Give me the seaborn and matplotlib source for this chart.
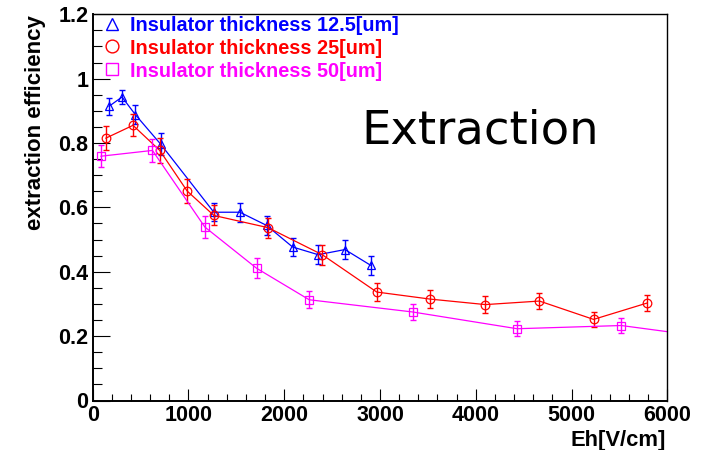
import numpy as np
import pandas as pd
import matplotlib
matplotlib.use("Agg")
import matplotlib.pyplot as plt
from matplotlib.ticker import MultipleLocator, FuncFormatter
from matplotlib.lines import Line2D
import seaborn as sns

# Extraction efficiency vs. drift field Eh for three insulator thicknesses
eh_125 = [170, 306, 446, 711, 1265, 1537, 1816, 2087, 2355, 2634, 2903]
eff_125 = [0.914, 0.943, 0.888, 0.796, 0.585, 0.585, 0.544, 0.477, 0.453, 0.469, 0.420]
err_125 = [0.026, 0.022, 0.029, 0.034, 0.028, 0.030, 0.030, 0.029, 0.030, 0.030, 0.030]

eh_25 = [136, 421, 700, 986, 1265, 1832, 2397, 2966, 3526, 4101, 4665, 5230, 5791]
eff_25 = [0.815, 0.855, 0.777, 0.651, 0.575, 0.537, 0.453, 0.337, 0.315, 0.298, 0.309, 0.252, 0.303]
err_25 = [0.037, 0.034, 0.040, 0.036, 0.031, 0.031, 0.031, 0.028, 0.027, 0.026, 0.026, 0.024, 0.026]

eh_50 = [84, 624, 1171, 1711, 2261, 3342, 4432, 5519, 6600]
eff_50 = [0.759, 0.777, 0.539, 0.411, 0.313, 0.275, 0.223, 0.233, 0.190]
err_50 = [0.034, 0.036, 0.035, 0.031, 0.026, 0.024, 0.023, 0.022, 0.022]

labels = ["Insulator thickness 12.5[um]",
          "Insulator thickness 25[um]",
          "Insulator thickness 50[um]"]
colors = ["#0000ff", "#ff0000", "#ff00ff"]
markers = ["^", "o", "s"]
msizes = [6.2, 6.2, 5.4]
legend_msizes = [8.6, 9.2, 8.0]

x_ticks = [0, 1000, 2000, 3000, 4000, 5000, 6000]
y_ticks = [0, 0.2, 0.4, 0.6, 0.8, 1.0, 1.2]

sns.set_theme(style="white")
plt.rcParams["font.family"] = ["Liberation Sans", "DejaVu Sans"]
plt.rcParams["text.color"] = "black"
plt.rcParams["xtick.color"] = "black"
plt.rcParams["ytick.color"] = "black"
plt.rcParams["axes.labelcolor"] = "black"

W, H = 707, 450
fig = plt.figure(figsize=(W / 100, H / 100), dpi=100)
ax = fig.add_axes([92.7 / W, 1 - 400.5 / H, (667.3 - 92.7) / W, (400.5 - 14.3) / H])

series = [(eh_125, eff_125, err_125), (eh_25, eff_25, err_25), (eh_50, eff_50, err_50)]
for (xs, ys, es), lab, c, m, ms in zip(series, labels, colors, markers, msizes):
    df = pd.DataFrame({"Eh": xs, "eff": ys})
    sns.lineplot(data=df, x="Eh", y="eff", ax=ax, color=c, linewidth=0.9,
                 marker=m, markersize=ms, markerfacecolor="none",
                 markeredgecolor=c, markeredgewidth=0.9,
                 estimator=None, sort=False, errorbar=None, legend=False)
    ax.errorbar(xs, ys, yerr=es, fmt="none", ecolor=c, elinewidth=1.0,
                capsize=2.2, capthick=1.0)

ax.set_xlim(0, 6000)
ax.set_ylim(0, 1.2)
ax.set_xticks(x_ticks)
ax.set_yticks(y_ticks)
ax.xaxis.set_minor_locator(MultipleLocator(200))
ax.yaxis.set_minor_locator(MultipleLocator(0.05))
fmt = FuncFormatter(lambda v, p: "%g" % round(v, 3))
ax.xaxis.set_major_formatter(fmt)
ax.yaxis.set_major_formatter(fmt)
ax.set_xlabel("")
ax.set_ylabel("")

for side in ["left", "bottom", "top", "right"]:
    ax.spines[side].set_color("black")
    ax.spines[side].set_visible(True)
ax.spines["left"].set_linewidth(1.4)
ax.spines["bottom"].set_linewidth(1.4)
ax.spines["top"].set_linewidth(1.0)
ax.spines["right"].set_linewidth(1.0)

ax.tick_params(axis="both", which="both", bottom=True, left=True,
               top=False, right=False, direction="in", color="black",
               labelcolor="black")
ax.tick_params(axis="x", which="major", length=8.4, width=0.8,
               pad=3.5, labelsize=15.5)
ax.tick_params(axis="x", which="minor", length=4.8, width=0.8)
ax.tick_params(axis="y", which="major", length=12.2, width=0.8,
               pad=3, labelsize=15.5)
ax.tick_params(axis="y", which="minor", length=6.3, width=0.8)
for t in ax.get_xticklabels() + ax.get_yticklabels():
    t.set_fontweight("bold")

# axis titles, ROOT style: anchored at the far ends of the axes
fig.text(36 / W, 1 - 15 / H, "extraction efficiency", rotation=90,
         ha="center", va="top", fontsize=16, fontweight="bold", color="black")
fig.text(666 / W, 1 - 446 / H, "Eh[V/cm]", ha="right", va="baseline",
         fontsize=15.8, fontweight="bold", color="black")

# big annotation
fig.text(361.5 / W, 1 - 143.3 / H, "Extraction", ha="left", va="baseline",
         fontsize=33.5, family="DejaVu Sans", color="black")

# legend: marker + coloured bold label per row
rows_y = [23.7, 46.3, 69.2]
for lab, c, m, ms, yy in zip(labels, colors, markers, legend_msizes, rows_y):
    fig.add_artist(Line2D([112.3 / W], [1 - yy / H], transform=fig.transFigure,
                          marker=m, markersize=ms, markerfacecolor="none",
                          markeredgecolor=c, markeredgewidth=1.0, linestyle="none"))
    fig.text(130 / W, 1 - yy / H, lab, ha="left", va="center_baseline",
             fontsize=14.3, fontweight="bold", color=c)

fig.savefig("out.png", dpi=100, facecolor="white")
